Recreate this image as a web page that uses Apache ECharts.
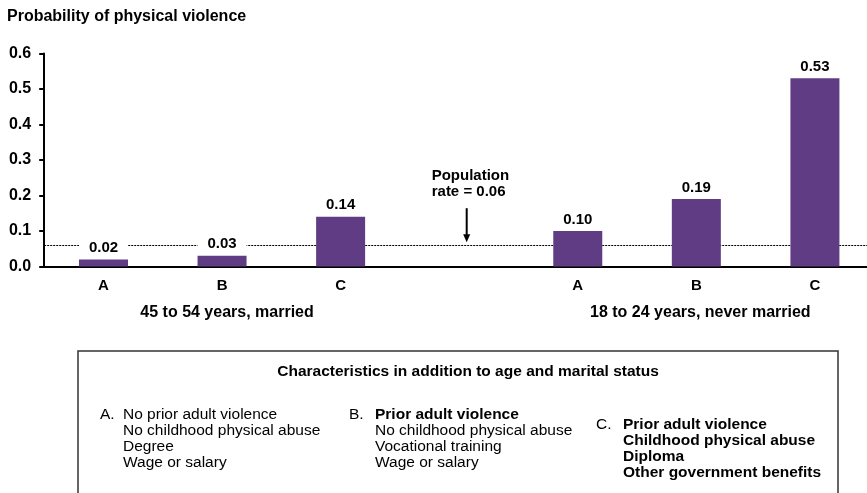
<!DOCTYPE html>
<html><head><meta charset="utf-8">
<script src="https://cdn.jsdelivr.net/npm/echarts@6/dist/echarts.min.js"></script>
<style>html,body{margin:0;padding:0;background:#fff;overflow:hidden}#c{width:880px;height:493px}</style>
</head><body><div id="c"></div>
<script>
// ---- data ----
const categories = ['A', 'B', 'C', '', 'A', 'B', 'C'];
const probabilities = [0.02, 0.03, 0.14, null, 0.10, 0.19, 0.53];
const populationRate = 0.06;
const yTickMax = 0.6;
const yTickStep = 0.1;
const chartTitle = 'Probability of physical violence';
const groupLabels = ['45 to 54 years, married', '18 to 24 years, never married'];
const annotationLines = ['Population', 'rate = 0.06'];
const boxTitle = 'Characteristics in addition to age and marital status';
const itemLetters = ['A.', 'B.', 'C.'];
const itemA = ['No prior adult violence', 'No childhood physical abuse', 'Degree', 'Wage or salary'];
const itemB = ['Prior adult violence', 'No childhood physical abuse', 'Vocational training', 'Wage or salary'];
const itemC = ['Prior adult violence', 'Childhood physical abuse', 'Diploma', 'Other government benefits'];
const boldA = [false, false, false, false];
const boldB = [true, false, false, false];
const boldC = [true, true, true, true];

// ---- chart ----
const F = '"Liberation Sans", Arial, Helvetica, sans-serif';
const chart = echarts.init(document.getElementById('c'), null, {renderer: 'canvas'});
const option = {
  animation: false,
  backgroundColor: '#fff',
  title: {
    text: chartTitle, left: 2, top: 4,
    textStyle: {fontFamily: F, fontSize: 16, fontWeight: 'bold', color: '#000'}
  },
  grid: {left: 44.2, top: 53.5, width: 830, height: 213},
  xAxis: {
    type: 'category', data: categories,
    axisLine: {lineStyle: {color: '#000', width: 2}},
    axisTick: {show: false},
    axisLabel: {color: '#000', fontWeight: 'bold', fontSize: 15, fontFamily: F, margin: 12}
  },
  yAxis: {
    type: 'value', min: 0, max: yTickMax, interval: yTickStep,
    axisLine: {show: true, lineStyle: {color: '#000', width: 2}},
    axisTick: {show: true, length: 5, lineStyle: {color: '#000', width: 2}},
    splitLine: {show: false},
    axisLabel: {color: '#000', fontWeight: 'bold', fontSize: 16, fontFamily: F, margin: 13,
      formatter: v => v.toFixed(1)}
  },
  series: [
    {
      type: 'bar', data: probabilities, barWidth: 49, z: 3,
      itemStyle: {color: '#5f3c83'},
      label: {
        show: true, position: 'top', distance: 4,
        formatter: p => (p.value == null ? '' : p.value.toFixed(2)),
        color: '#000', fontWeight: 'bold', fontSize: 15, fontFamily: F,
        backgroundColor: '#fff', width: 49, align: 'center', padding: [0, 0, 0, 0]
      }
    },
    {
      type: 'line', data: [], z: 1,
      markLine: {
        silent: true, symbol: 'none', z: 1,
        label: {show: false},
        lineStyle: {type: [2, 1], color: '#000', width: 1.2},
        data: [{yAxis: populationRate}]
      }
    }
  ]
};
chart.setOption(option);

// ---- annotations ----
const ref = chart.convertToPixel({gridIndex: 0}, [3, populationRate]);
const ax = ref[0] + 7.5;
const lineY = ref[1];
const g = [];
g.push({type: 'text', x: ax - 35, y: lineY - 69, style: {text: annotationLines[0], font: 'bold 15px ' + F, fill: '#000', textAlign: 'left', textVerticalAlign: 'middle'}});
g.push({type: 'text', x: ax - 35, y: lineY - 53, style: {text: annotationLines[1], font: 'bold 15px ' + F, fill: '#000', textAlign: 'left', textVerticalAlign: 'middle'}});
g.push({type: 'line', shape: {x1: ax, y1: lineY - 37, x2: ax, y2: lineY - 9}, style: {stroke: '#000', lineWidth: 2}});
g.push({type: 'polygon', shape: {points: [[ax - 3.5, lineY - 11], [ax + 3.5, lineY - 11], [ax, lineY - 3]]}, style: {fill: '#000'}});
const b1 = chart.convertToPixel({gridIndex: 0}, [1, 0]);
const b2 = chart.convertToPixel({gridIndex: 0}, [5, 0]);
g.push({type: 'text', x: b1[0] + 5, y: 313, style: {text: groupLabels[0], font: 'bold 16px ' + F, fill: '#000', textAlign: 'center', textVerticalAlign: 'middle'}});
g.push({type: 'text', x: b2[0] + 4, y: 313, style: {text: groupLabels[1], font: 'bold 16px ' + F, fill: '#000', textAlign: 'center', textVerticalAlign: 'middle'}});
g.push({type: 'rect', shape: {x: 78, y: 351, width: 760, height: 170}, style: {fill: 'none', stroke: '#333', lineWidth: 1.5}});
g.push({type: 'text', x: 468, y: 372, style: {text: boxTitle, font: 'bold 15.5px ' + F, fill: '#000', textAlign: 'center', textVerticalAlign: 'middle'}});
const items = [
  {letter: itemLetters[0], lines: itemA, bold: boldA, lx: 100, tx: 123, y0: 415},
  {letter: itemLetters[1], lines: itemB, bold: boldB, lx: 349, tx: 375, y0: 415},
  {letter: itemLetters[2], lines: itemC, bold: boldC, lx: 596, tx: 623, y0: 425}
];
items.forEach(it => {
  g.push({type: 'text', x: it.lx, y: it.y0, style: {text: it.letter, font: '15.5px ' + F, fill: '#000', textAlign: 'left', textVerticalAlign: 'middle'}});
  it.lines.forEach((t, i) => {
    g.push({type: 'text', x: it.tx, y: it.y0 + i * 16, style: {text: t, font: (it.bold[i] ? 'bold ' : '') + '15.5px ' + F, fill: '#000', textAlign: 'left', textVerticalAlign: 'middle'}});
  });
});
chart.setOption({graphic: g});
</script>
</body></html>
